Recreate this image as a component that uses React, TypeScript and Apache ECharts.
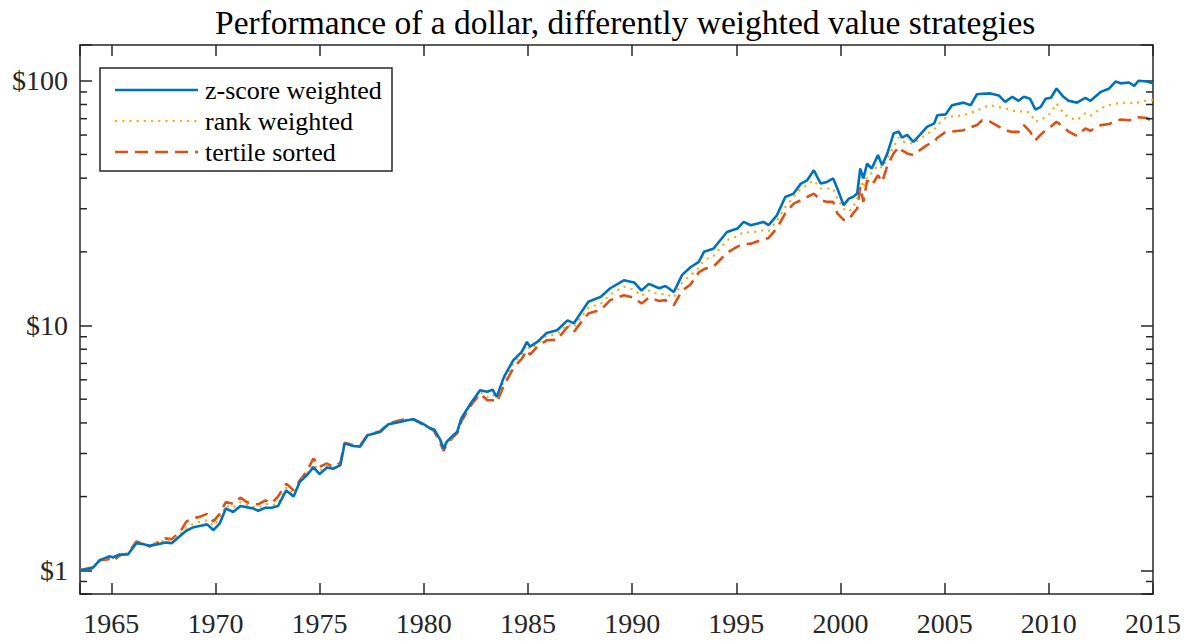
import React, { useEffect, useRef } from 'react';
import * as echarts from 'echarts';

const years = [
  1963.5, 1964.1, 1964.45, 1964.9, 1965.1, 1965.4, 1965.8, 1966.2, 1966.5, 1966.85,
  1967.3, 1967.6, 1967.9, 1968.3, 1968.6, 1968.95, 1969.3, 1969.6, 1969.9, 1970.2,
  1970.5, 1970.85, 1971.2, 1971.5, 1971.8, 1972.05, 1972.4, 1972.7, 1973.0, 1973.4,
  1973.75, 1974.05, 1974.4, 1974.7, 1975.0, 1975.35, 1975.65, 1976.0, 1976.2, 1976.6,
  1976.95, 1977.3, 1977.9, 1978.3, 1978.85, 1979.2, 1979.5, 1980.0, 1980.3, 1980.5,
  1980.8, 1980.95, 1981.1, 1981.4, 1981.6, 1981.8, 1982.25, 1982.7, 1983.05, 1983.3,
  1983.5, 1983.85, 1984.3, 1984.7, 1984.95, 1985.1, 1985.45, 1985.9, 1986.4, 1986.9,
  1987.2, 1987.55, 1987.9, 1988.5, 1988.95, 1989.6, 1990.1, 1990.45, 1990.8, 1991.3,
  1991.6, 1992.0, 1992.4, 1992.8, 1993.2, 1993.45, 1993.9, 1994.55, 1995.05, 1995.35,
  1995.7, 1996.3, 1996.55, 1996.95, 1997.35, 1997.75, 1998.1, 1998.4, 1998.72, 1999.05,
  1999.35, 1999.65, 1999.85, 2000.15, 2000.4, 2000.6, 2000.8, 2000.95, 2001.1, 2001.28,
  2001.5, 2001.8, 2002.0, 2002.25, 2002.55, 2002.8, 2002.95, 2003.2, 2003.5, 2003.8,
  2004.15, 2004.5, 2004.65, 2005.05, 2005.35, 2005.9, 2006.25, 2006.55, 2006.8, 2007.2,
  2007.6, 2007.9, 2008.25, 2008.55, 2008.8, 2009.1, 2009.35, 2009.6, 2009.85, 2010.1,
  2010.37, 2010.7, 2010.95, 2011.35, 2011.75, 2012.0, 2012.5, 2012.9, 2013.2, 2013.45,
  2013.85, 2014.1, 2014.3, 2014.7, 2015.0,
];

const zScore = [
  1.0, 1.02, 1.1, 1.14, 1.13, 1.16, 1.16, 1.29, 1.28, 1.26,
  1.28, 1.3, 1.29, 1.38, 1.45, 1.5, 1.52, 1.54, 1.46, 1.55,
  1.79, 1.73, 1.83, 1.81, 1.79, 1.75, 1.8, 1.8, 1.83, 2.12,
  2.0, 2.3, 2.45, 2.64, 2.47, 2.63, 2.6, 2.69, 3.3, 3.22,
  3.2, 3.56, 3.67, 3.95, 4.04, 4.1, 4.14, 3.95, 3.8, 3.76,
  3.4, 3.14, 3.35, 3.55, 3.67, 4.17, 4.8, 5.44, 5.36, 5.47,
  5.11, 6.17, 7.22, 7.8, 8.57, 8.2, 8.57, 9.33, 9.57, 10.5,
  10.2, 11.3, 12.5, 13.1, 14.2, 15.3, 15.0, 13.9, 14.8, 14.2,
  14.5, 13.7, 16.1, 17.3, 18.2, 20.0, 20.6, 24.1, 24.9, 26.5,
  25.7, 26.5, 25.7, 28.2, 33.5, 34.6, 38.0, 39.2, 43.1, 38.0,
  38.6, 39.9, 36.3, 31.0, 33.0, 33.5, 34.6, 43.8, 39.9, 45.9,
  43.8, 49.7, 45.2, 50.5, 60.9, 62.0, 58.6, 60.1, 56.3, 60.0,
  64.8, 67.0, 72.3, 72.9, 79.5, 81.4, 79.5, 88.1, 88.5, 88.8,
  87.1, 82.0, 86.0, 82.8, 86.0, 84.4, 76.3, 78.0, 84.4, 85.2,
  93.0, 86.0, 82.8, 81.4, 85.2, 82.8, 90.1, 93.0, 99.3, 97.6,
  98.4, 95.3, 100, 99.3, 97.6,
];

const rankWeighted = [
  1.0, 1.02, 1.1, 1.13, 1.12, 1.16, 1.17, 1.3, 1.29, 1.26,
  1.3, 1.33, 1.32, 1.4, 1.5, 1.55, 1.58, 1.6, 1.52, 1.62,
  1.84, 1.8, 1.9, 1.85, 1.82, 1.8, 1.87, 1.84, 1.88, 2.18,
  2.05, 2.32, 2.5, 2.72, 2.55, 2.68, 2.62, 2.72, 3.3, 3.24,
  3.22, 3.56, 3.68, 3.95, 4.06, 4.12, 4.14, 3.95, 3.8, 3.74,
  3.35, 3.12, 3.3, 3.52, 3.65, 4.1, 4.75, 5.35, 5.1, 5.25,
  5.0, 6.0, 7.0, 7.6, 8.35, 8.0, 8.4, 9.1, 9.2, 10.1,
  9.8, 10.8, 11.8, 12.3, 13.4, 14.4, 14.0, 13.2, 13.9, 13.4,
  13.5, 13.0, 15.0, 16.0, 17.2, 18.5, 19.2, 22.3, 23.2, 24.1,
  24.0, 24.5, 24.3, 26.8, 30.5, 33.5, 36.3, 37.5, 39.2, 36.3,
  36.3, 36.3, 33.0, 30.0, 29.1, 30.4, 33.0, 40.5, 36.5, 41.0,
  42.0, 45.2, 44.0, 48.0, 53.7, 58.6, 56.5, 56.0, 55.3, 58.0,
  60.5, 63.2, 66.0, 70.5, 71.5, 72.3, 74.0, 75.3, 77.5, 79.5,
  78.0, 77.2, 75.5, 74.7, 75.3, 74.0, 68.0, 69.0, 71.2, 74.0,
  80.8, 73.6, 71.0, 69.0, 73.6, 72.0, 77.2, 79.5, 80.7, 81.0,
  81.6, 80.5, 81.6, 83.0, 83.5,
];

const tertileSorted = [
  1.0, 1.03, 1.1, 1.11, 1.09, 1.15, 1.17, 1.31, 1.29, 1.25,
  1.31, 1.35, 1.34, 1.43, 1.58, 1.63, 1.66, 1.7, 1.58, 1.7,
  1.9, 1.87, 1.98, 1.9, 1.86, 1.86, 1.93, 1.88, 2.0, 2.26,
  2.12, 2.33, 2.55, 2.86, 2.65, 2.73, 2.64, 2.75, 3.32, 3.25,
  3.24, 3.57, 3.7, 3.97, 4.1, 4.15, 4.14, 3.93, 3.82, 3.7,
  3.3, 3.08, 3.25, 3.5, 3.62, 4.05, 4.7, 5.27, 4.95, 4.95,
  4.85, 5.7, 6.7, 7.3, 7.93, 7.6, 8.2, 8.7, 8.75, 9.88,
  9.4, 10.3, 11.2, 11.6, 12.7, 13.3, 13.0, 12.3, 13.0, 12.6,
  12.7, 12.1, 13.9, 14.7, 16.5, 17.0, 17.4, 19.8, 21.0, 21.5,
  21.6, 22.5, 22.8, 25.0, 28.7, 31.5, 32.5, 33.5, 34.6, 32.5,
  32.0, 32.0, 28.7, 27.0, 27.0, 28.7, 30.0, 36.9, 32.0, 39.2,
  37.4, 41.1, 38.6, 45.0, 50.5, 53.7, 52.0, 50.5, 49.7, 52.0,
  54.6, 56.3, 58.5, 61.8, 62.0, 62.8, 64.5, 65.9, 69.0, 68.0,
  65.0, 62.8, 61.8, 61.8, 65.9, 62.0, 57.1, 60.1, 62.8, 65.0,
  68.0, 64.8, 62.0, 59.5, 63.8, 62.5, 65.9, 66.6, 68.5, 69.5,
  69.0, 69.5, 70.9, 70.5, 68.0,
];

const seriesNames = ['z-score weighted', 'rank weighted', 'tertile sorted'];
const seriesColors = ['#0072BD', '#EDB120', '#D95319'];
const seriesWidths = [2.6, 2.2, 2.6];
const seriesDashes: (number[] | null)[] = [null, [2.2, 5], [13, 7]];
const yMajorLabels = [1, 10, 100];
const yMinorTicks = [0.8, 0.9, 2, 3, 4, 5, 6, 7, 8, 9, 20, 30, 40, 50, 60, 70, 80, 90];
const xMin = 1963.5;
const xMax = 2015;
const yMin = 0.8;
const yMax = 140;

const FONT = 'Liberation Serif';
const AXIS_COLOR = '#262626';

export default function App() {
  const ref = useRef<HTMLDivElement>(null);

  useEffect(() => {
    document.body.style.margin = '0';
    const chart = echarts.init(ref.current!, null, { renderer: 'svg' });

    const xAxisBase = {
      type: 'value',
      min: xMin,
      max: xMax,
      splitNumber: 10,
      minInterval: 5,
      maxInterval: 5,
      splitLine: { show: false },
      axisLine: { show: true, onZero: false, lineStyle: { color: AXIS_COLOR, width: 1.5 } },
      axisTick: { show: true, inside: true, length: 11, lineStyle: { color: AXIS_COLOR, width: 1.5 } },
    };
    const yAxisBase = {
      type: 'log',
      logBase: 10,
      min: yMin,
      max: yMax,
      splitLine: { show: false },
      axisLine: { show: true, lineStyle: { color: AXIS_COLOR, width: 1.5 } },
      axisTick: { show: true, inside: true, length: 12, lineStyle: { color: AXIS_COLOR, width: 1.5 } },
    };

    const lineData = (vals: number[]) => years.map((y, i) => [y, vals[i]]);
    const allValues = [zScore, rankWeighted, tertileSorted];

    // Legend box drawn with graphic elements
    const legendLeft = 100;
    const legendTop = 68;
    const legendRowY = [90, 121, 152];
    const legendChildren: any[] = [
      {
        type: 'rect',
        shape: { x: legendLeft, y: legendTop, width: 292, height: 103 },
        style: { fill: '#ffffff', stroke: AXIS_COLOR, lineWidth: 1.5 },
      },
    ];
    seriesNames.forEach((name, i) => {
      legendChildren.push({
        type: 'line',
        shape: { x1: 115, y1: legendRowY[i], x2: 198, y2: legendRowY[i] },
        style: {
          stroke: seriesColors[i],
          lineWidth: seriesWidths[i],
          lineDash: seriesDashes[i] || undefined,
        },
      });
      legendChildren.push({
        type: 'text',
        x: 205,
        y: legendRowY[i],
        style: {
          text: name,
          fontFamily: FONT,
          fontSize: 26,
          fill: '#000',
          verticalAlign: 'middle',
          align: 'left',
        },
      });
    });

    chart.setOption({
      animation: false,
      backgroundColor: '#ffffff',
      textStyle: { fontFamily: FONT },
      title: {
        text: 'Performance of a dollar, differently weighted value strategies',
        left: 210,
        top: 0,
        textStyle: { fontFamily: FONT, fontSize: 33.5, fontWeight: 'normal', color: '#000' },
      },
      grid: { left: 80, right: 35, top: 45, bottom: 47, containLabel: false },
      graphic: [{ type: 'group', z: 100, children: legendChildren }],
      xAxis: [
        {
          ...xAxisBase,
          position: 'bottom',
          axisLabel: {
            show: true,
            margin: 15,
            fontFamily: FONT,
            fontSize: 28,
            color: AXIS_COLOR,
            formatter: (v: number) => (v % 5 === 0 ? String(v) : ''),
          },
        },
        {
          ...xAxisBase,
          position: 'top',
          axisLabel: { show: false },
        },
      ],
      yAxis: [
        {
          ...yAxisBase,
          position: 'left',
          axisLabel: {
            show: true,
            margin: 12,
            fontFamily: FONT,
            fontSize: 28,
            color: AXIS_COLOR,
            formatter: (v: number) => (yMajorLabels.includes(Math.round(v * 1000) / 1000) ? '$' + Math.round(v) : ''),
          },
        },
        {
          ...yAxisBase,
          position: 'right',
          axisLabel: { show: false },
        },
      ],
      series: [
        ...seriesNames.map((name, i) => ({
          name,
          type: 'line',
          data: lineData(allValues[i]),
          symbol: 'none',
          color: seriesColors[i],
          lineStyle: {
            color: seriesColors[i],
            width: seriesWidths[i],
            type: seriesDashes[i] || 'solid',
          },
          z: 5 - i,
        })),
        {
          name: 'minorTicks',
          type: 'custom',
          silent: true,
          clip: false,
          z: 10,
          data: yMinorTicks.map((v) => [xMin, v]),
          renderItem: (params: any, api: any) => {
            const pt = api.coord([api.value(0), api.value(1)]);
            const cs = params.coordSys;
            const style = { stroke: AXIS_COLOR, lineWidth: 1.5 };
            return {
              type: 'group',
              children: [
                { type: 'line', shape: { x1: cs.x, y1: pt[1], x2: cs.x + 7, y2: pt[1] }, style },
                { type: 'line', shape: { x1: cs.x + cs.width - 7, y1: pt[1], x2: cs.x + cs.width, y2: pt[1] }, style },
              ],
            };
          },
        },
      ],
    });

    return () => chart.dispose();
  }, []);

  return <div ref={ref} style={{ width: 1188, height: 641 }} />;
}
